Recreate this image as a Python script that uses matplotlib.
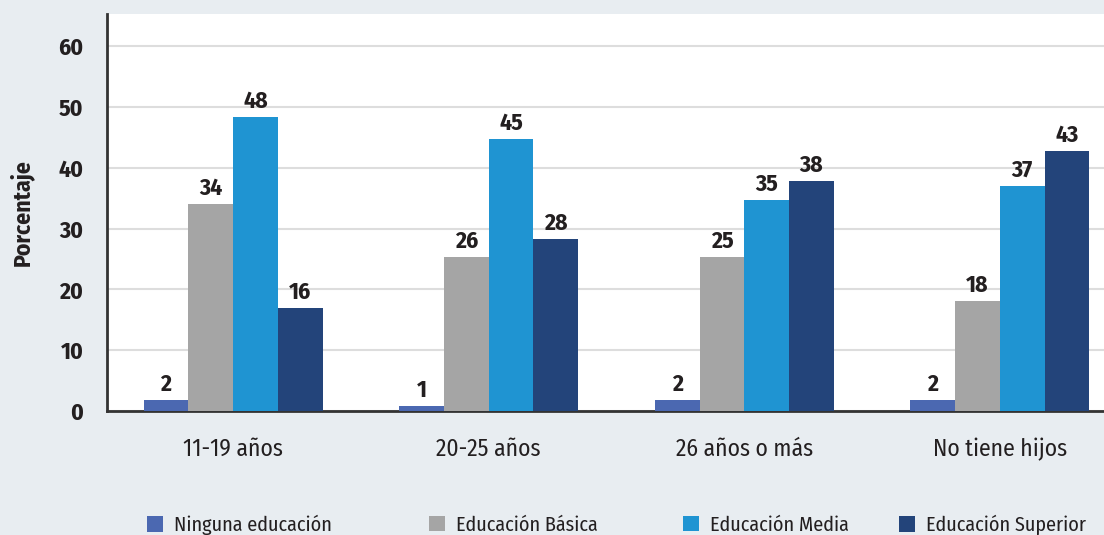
import matplotlib
matplotlib.use("Agg")
import matplotlib.pyplot as plt
import numpy as np
from matplotlib.patches import Patch

# Data
categories = ["11-19 años", "20-25 años", "26 años o más", "No tiene hijos"]
series_names = ["Ninguna educación", "Educación Básica", "Educación Media", "Educación Superior"]
ninguna = [1.8, 0.8, 1.8, 1.8]
basica = [34.0, 25.3, 25.3, 18.1]
media = [48.4, 44.7, 34.7, 37.0]
superior = [16.9, 28.3, 37.8, 42.8]
# printed labels
ninguna_lbl = [2, 1, 2, 2]
basica_lbl = [34, 26, 25, 18]
media_lbl = [48, 45, 35, 37]
superior_lbl = [16, 28, 38, 43]

colors = ["#4b68b1", "#a5a5a5", "#1f94d2", "#23447a"]
BG = "#e8edf1"
FONT = ["Fira Sans Condensed", "Roboto Condensed", "PT Sans Narrow", "DejaVu Sans"]

plt.rcParams['font.family'] = FONT

fig = plt.figure(figsize=(11.04, 5.35), dpi=100, facecolor=BG)
ax = fig.add_axes([107 / 1104, 1 - 411 / 535, 1 - 107 / 1104, (411 - 14) / 535])
ax.set_facecolor("white")

x = np.arange(len(categories))
width = 0.175
values = [ninguna, basica, media, superior]
labels = [ninguna_lbl, basica_lbl, media_lbl, superior_lbl]

for i, (vals, lbls) in enumerate(zip(values, labels)):
    pos = x + (i - 1.5) * width
    ax.bar(pos, vals, width=width, color=colors[i], zorder=3)
    for px, v, l in zip(pos, vals, lbls):
        ax.annotate(str(l), (px, v), xytext=(0, 3), textcoords="offset points",
                    ha="center", va="bottom", fontsize=17, fontweight="bold",
                    color="#231f20")

ax.set_xlim(-0.493, 3.407)
ax.set_ylim(0, 65.3)
ax.set_yticks(range(0, 61, 10))
ax.set_xticks(x)
ax.set_xticklabels(categories, fontsize=17, color="#231f20")
ax.tick_params(axis="x", length=0, pad=19)
ax.tick_params(axis="y", length=0, pad=17, labelsize=17, labelcolor="#231f20")
for t in ax.get_yticklabels():
    t.set_fontweight("bold")

ax.yaxis.grid(True, color="#dddddd", linewidth=1.5, zorder=0)
ax.set_axisbelow(True)
for s in ["top", "right"]:
    ax.spines[s].set_visible(False)
ax.spines["left"].set_color("#333333")
ax.spines["left"].set_linewidth(2)
ax.spines["bottom"].set_color("#333333")
ax.spines["bottom"].set_linewidth(2)

ax.set_ylabel("Porcentaje", fontsize=17, fontweight="bold", color="#231f20", labelpad=18)

# legend entries placed individually (uneven spacing in original)
legend_x = [147, 429, 683, 899]
for name, c, lx in zip(series_names, colors, legend_x):
    leg = fig.legend(handles=[Patch(facecolor=c, edgecolor="none")], labels=[name],
                     loc="center left", bbox_to_anchor=(lx / 1104, 1 - 525 / 535),
                     frameon=False, fontsize=14.5, handlelength=0.8, handleheight=0.8,
                     handletextpad=0.55, borderaxespad=0, borderpad=0)
    for t in leg.get_texts():
        t.set_color("#231f20")

fig.savefig("out.png", dpi=100, facecolor=BG)
